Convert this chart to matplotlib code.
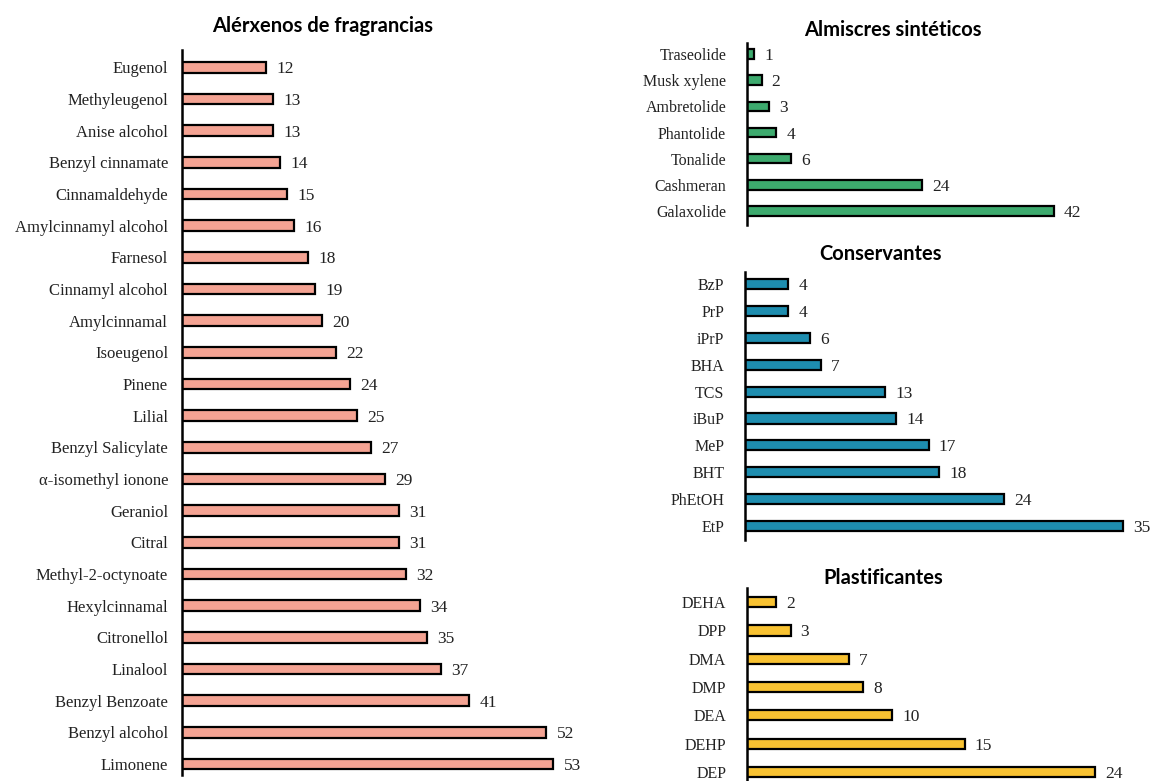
import matplotlib
matplotlib.use("Agg")
import matplotlib.pyplot as plt

# Data
frag_labels = ["Eugenol", "Methyleugenol", "Anise alcohol", "Benzyl cinnamate",
               "Cinnamaldehyde", "Amylcinnamyl alcohol", "Farnesol", "Cinnamyl alcohol",
               "Amylcinnamal", "Isoeugenol", "Pinene", "Lilial", "Benzyl Salicylate",
               "α-isomethyl ionone", "Geraniol", "Citral", "Methyl-2-octynoate",
               "Hexylcinnamal", "Citronellol", "Linalool", "Benzyl Benzoate",
               "Benzyl alcohol", "Limonene"]
frag_values = [12, 13, 13, 14, 15, 16, 18, 19, 20, 22, 24, 25, 27, 29, 31, 31, 32,
               34, 35, 37, 41, 52, 53]

musk_labels = ["Traseolide", "Musk xylene", "Ambretolide", "Phantolide",
               "Tonalide", "Cashmeran", "Galaxolide"]
musk_values = [1, 2, 3, 4, 6, 24, 42]

pres_labels = ["BzP", "PrP", "iPrP", "BHA", "TCS", "iBuP", "MeP", "BHT",
               "PhEtOH", "EtP"]
pres_values = [4, 4, 6, 7, 13, 14, 17, 18, 24, 35]

plas_labels = ["DEHA", "DPP", "DMA", "DMP", "DEA", "DEHP", "DEP"]
plas_values = [2, 3, 7, 8, 10, 15, 24]

W, H = 1154, 781
fig = plt.figure(figsize=(W / 100, H / 100), dpi=100)
fig.patch.set_facecolor("white")

SERIF = "Liberation Serif"
TITLE_FONT = "Lato"


def add_panel(px_left, px_top, px_width, px_bottom, labels, values, color,
              xmax, ylim, title, title_xy, bar_h, lab_size=11.5, val_size=12.5,
              pad=10):
    ax = fig.add_axes([px_left / W, 1 - px_bottom / H,
                       px_width / W, (px_bottom - px_top) / H])
    y = list(range(len(labels)))
    ax.barh(y, values, height=bar_h, color=color, edgecolor="black",
            linewidth=1.6)
    for yi, v in zip(y, values):
        ax.text(v + xmax * 0.025, yi, str(v), va="center_baseline", ha="left",
                fontsize=val_size, family=SERIF, color="#222222")
    ax.set_yticks(y)
    ax.set_yticklabels(labels, family=SERIF, fontsize=lab_size, color="#222222")
    ax.tick_params(axis="y", length=0, pad=pad)
    ax.set_xticks([])
    ax.set_xlim(0, xmax)
    ax.set_ylim(*ylim)
    for s in ["top", "right", "bottom"]:
        ax.spines[s].set_visible(False)
    ax.spines["left"].set_linewidth(1.8)
    fig.text(title_xy[0] / W, 1 - title_xy[1] / H, title, ha="center",
             va="center", fontsize=14.5, fontweight="bold", family=TITLE_FONT)
    return ax


add_panel(182, 50, 420, 775, frag_labels, frag_values, "#F4A393", 60,
          (22.35, -0.55), "Alérxenos de fragrancias", (323, 26), 0.34,
          lab_size=12)

add_panel(747, 43, 7.3 * 55, 225, musk_labels, musk_values, "#3DAA6E", 55,
          (6.53, -0.42), "Almiscres sintéticos", (893, 30), 0.36, pad=15)

add_panel(745, 272, 10.8 * 38, 540, pres_labels, pres_values, "#1E8DAF", 38,
          (9.52, -0.45), "Conservantes", (880, 254), 0.38, pad=15)

add_panel(747, 588, 14.5 * 28, 781, plas_labels, plas_values, "#F8C232", 28,
          (6.32, -0.5), "Plastificantes", (883, 578), 0.36, pad=15)

fig.savefig("out.png", dpi=100)
